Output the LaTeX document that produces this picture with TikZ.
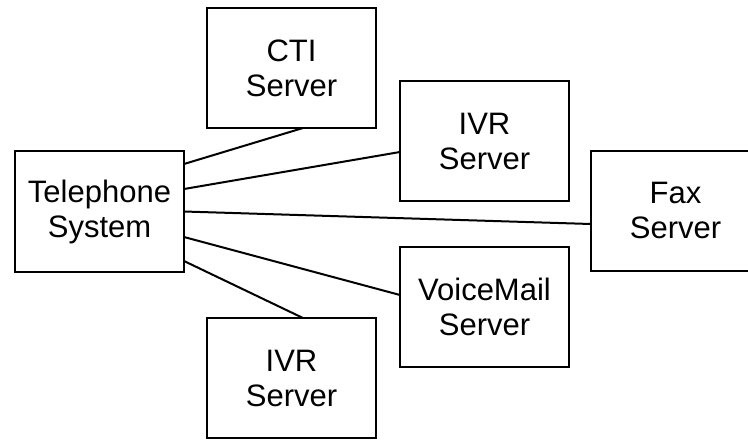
\documentclass[tikz,border=0pt]{standalone}
\usepackage{fontspec}
\setmainfont{Liberation Sans}
\begin{document}
\begin{tikzpicture}[x=1pt,y=-1pt,
  box/.style={draw,line width=2pt,inner sep=0pt,outer sep=0pt,minimum width=169pt,minimum height=120pt,align=center,font=\fontsize{31}{35}\selectfont},
  conn/.style={line width=2pt}]
\clip (0,0) rectangle (748,440);
\node[box,minimum height=121pt] (tel) at (99.5,211.5) {Telephone\\System};
\node[box] (cti) at (291.5,68) {CTI\\Server};
\node[box] (ivra) at (484.5,141) {IVR\\Server};
\node[box] (fax) at (675.5,210.5) {Fax\\Server};
\node[box] (vm) at (484.5,307) {VoiceMail\\Server};
\node[box] (ivrb) at (291.5,378) {IVR\\Server};
\draw[conn] ([yshift=47.5pt]tel.east) -- ([xshift=11.5pt]cti.south);
\draw[conn] ([yshift=22.5pt]tel.east) -- ([yshift=-11pt]ivra.west);
\draw[conn] (tel.east) -- ([yshift=-13.5pt]fax.west);
\draw[conn] ([yshift=-25.5pt]tel.east) -- ([yshift=12pt]vm.west);
\draw[conn] ([yshift=-49.5pt]tel.east) -- ([xshift=11.5pt]ivrb.north);
\end{tikzpicture}
\end{document}
